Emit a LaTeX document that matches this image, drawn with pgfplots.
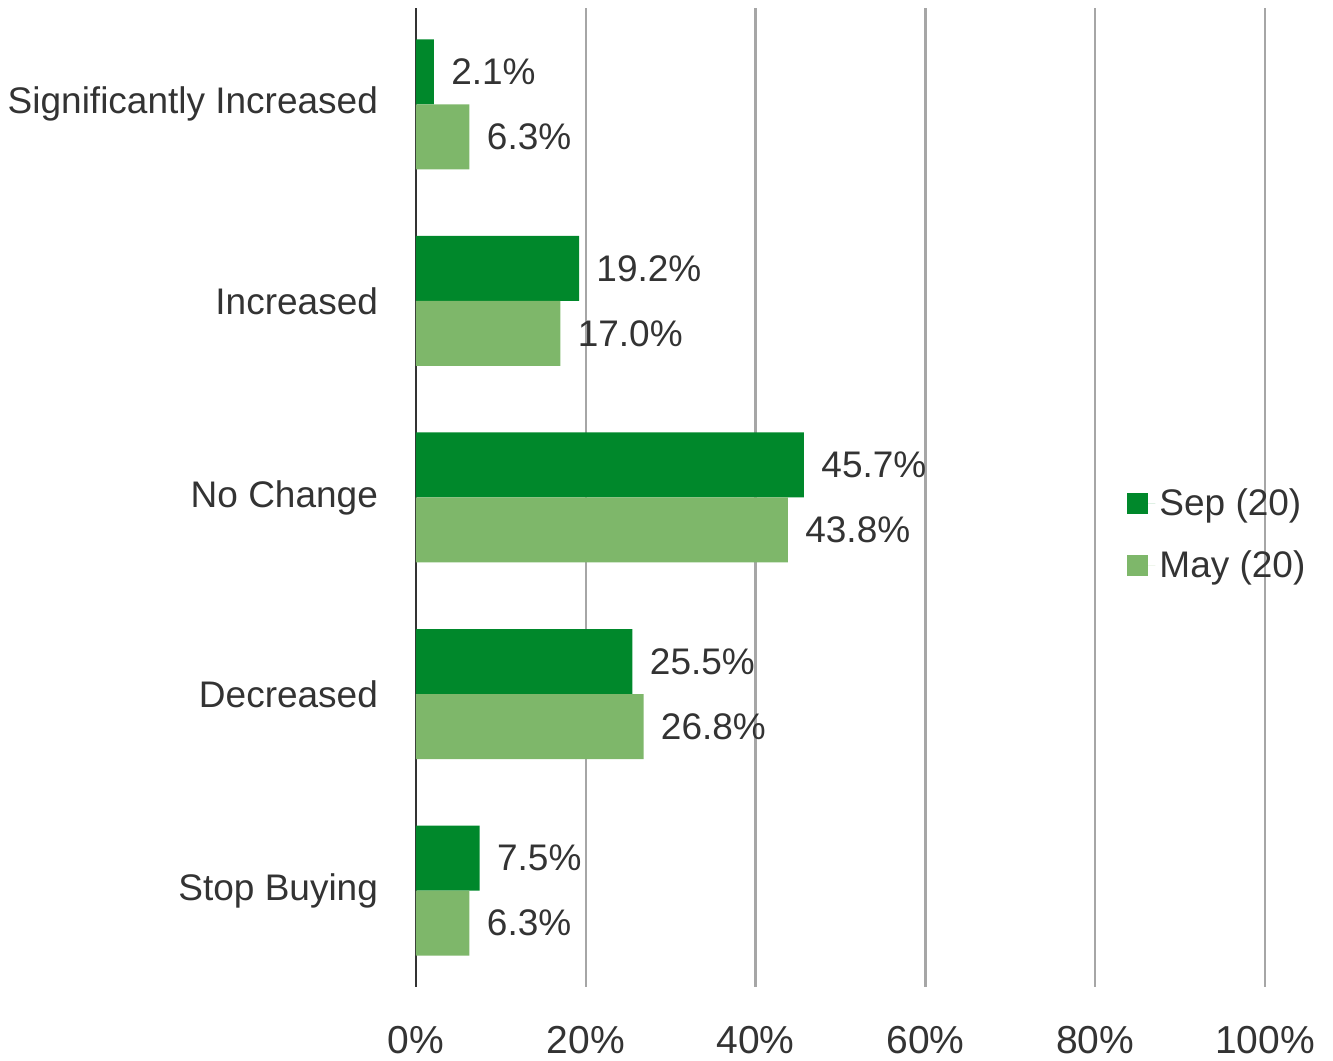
\documentclass[border=0pt]{standalone}
\usepackage{fontspec}
\setmainfont{Liberation Sans}
\usepackage{pgfplots}
\pgfplotsset{compat=1.18}
\definecolor{sepgreen}{HTML}{00882B}
\definecolor{maygreen}{HTML}{7EB76A}
\definecolor{txtgray}{HTML}{333333}
\definecolor{gridgray}{HTML}{A6A6A6}
\begin{document}
\begin{tikzpicture}[font=\fontsize{18.5}{22}\selectfont, text=txtgray]
\begin{axis}[
  scale only axis,
  width=424.5pt, height=489.5pt,
  xbar, bar width=32.5pt,
  xmin=0, xmax=100,
  ymin=-0.49, ymax=4.49,
  xtick={0,20,40,60,80,100},
  xticklabel={\pgfmathprintnumber{\tick}\%},
  /pgf/number format/assume math mode=true,
  ytick={0,1,2,3,4},
  yticklabels={Stop Buying, Decreased, No Change, Increased, Significantly Increased},
  axis x line*=bottom, axis y line*=left,
  x axis line style={draw=none},
  y axis line style={-, draw=txtgray, line width=1.1pt},
  major tick length=0pt,
  tick style={draw=none},
  xmajorgrids, grid style={draw=gridgray, line width=1.1pt},
  xticklabel style={yshift=-16pt, text=txtgray, font=\fontsize{19.5}{22}\selectfont},
  yticklabel style={xshift=-15.5pt, text=txtgray},
  every node near coord/.append style={anchor=west, xshift=5.2pt, text=txtgray},
  nodes near coords={\pgfmathprintnumber[fixed,precision=1,fixed zerofill]{\pgfplotspointmeta}\%},
  legend style={draw=none, fill=none, at={(rel axis cs:0.8375,0.462)}, anchor=west,
    inner sep=0pt, row sep=12pt, text=txtgray, font=\fontsize{18.5}{22}\selectfont},
  legend cell align=left,
]
\addplot[fill=sepgreen, draw=none, bar shift=16.25pt,
  legend image code/.code={\fill[sepgreen] (0pt,-5.25pt) rectangle (10.5pt,5.25pt);\path (0pt,0pt) -- (14pt,0pt);}]
  coordinates {(7.5,0) (25.5,1) (45.7,2) (19.2,3) (2.1,4)};
\addlegendentry{Sep (20)}
\addplot[fill=maygreen, draw=none, bar shift=-16.25pt,
  legend image code/.code={\fill[maygreen] (0pt,-5.25pt) rectangle (10.5pt,5.25pt);\path (0pt,0pt) -- (14pt,0pt);}]
  coordinates {(6.3,0) (26.8,1) (43.8,2) (17.0,3) (6.3,4)};
\addlegendentry{May (20)}
\end{axis}
\useasboundingbox (-208pt,-36pt) rectangle (458.5pt,493.5pt);
\end{tikzpicture}
\end{document}
